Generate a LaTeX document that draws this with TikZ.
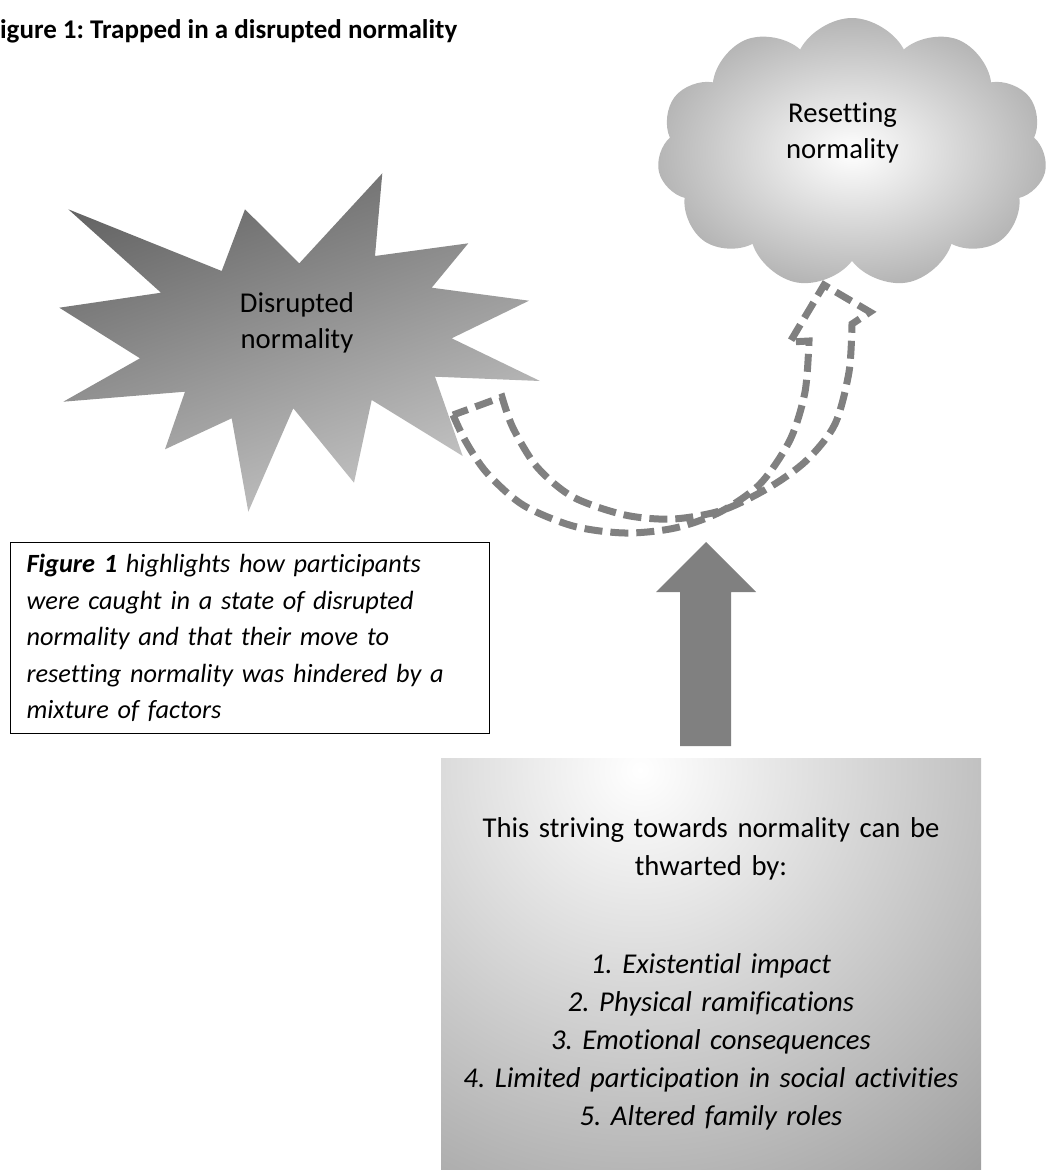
\documentclass[tikz,border=0pt]{standalone}
\usepackage{fontspec}
\setmainfont{Carlito}[Ligatures=NoCommon]
\usetikzlibrary{shapes.symbols}
\frenchspacing

\begin{document}
\begin{tikzpicture}[x=1pt, y=-1pt,
  big/.style={font=\fontsize{28.7}{36}\selectfont, inner sep=0pt, align=center, text width=300pt},
  dashline/.style={draw=gray, line width=7pt, dash pattern=on 18pt off 8pt},
  note/.style={draw=black, line width=1.3pt, font=\fontsize{26.3}{36.5}\selectfont\itshape,
    text width=447pt, inner xsep=16pt, inner ysep=0pt, minimum height=191pt, align=left}]
  \useasboundingbox (0,0) rectangle (1048,1170);

  \node[anchor=base west, inner sep=0pt, font=\fontsize{27}{32}\selectfont\bfseries] (title)
    at (-12.5,38) {Figure 1: Trapped in a disrupted normality};

  % disrupted normality
  \shade[top color=black!60, bottom color=black!22, shading angle=20]
    (68.3,209.3) -- (221.7,271) -- (245,209.3) -- (299.3,263.3) -- (382.3,173.3)
    -- (375,256) -- (468.3,243.3) -- (431.7,287.7) -- (529,300.7) -- (451.7,338.3)
    -- (540,381) -- (435,376.7) -- (462.7,456) -- (371.7,400) -- (354,482.7)
    -- (293.3,408.3) -- (248.3,511.7) -- (231.7,418.3) -- (165,449.3) -- (185,391.7)
    -- (63.3,401.7) -- (140,358.3) -- (59.3,307.7) -- (161,292.7) -- cycle;
  \node[big, anchor=base] (disrupted) at (297,312) {Disrupted\\normality};

  % resetting normality
  \node[cloud, cloud puffs=11, cloud puff arc=125, cloud ignores aspect, shape border rotate=8,
    minimum width=390pt, minimum height=270pt, inner color=white, outer color=black!29]
    (reset) at (852,153) {};
  \node[big, anchor=base] (resettext) at (842.5,122) {Resetting\\normality};

  % curved arrow
  \draw[dashline] plot[smooth] coordinates {(453,415) (466,442) (487,473) (523,505)
      (573,526) (625,533) (675,528) (720,512) (760,484) (790,440) (805,392) (809,341)}
    -- (790,342) -- (824,285) -- (870,312) -- (852,324)
    -- plot[smooth] coordinates {(852,324) (849,372) (835,424) (807,460) (770,487)
      (723,510) (673,519) (625,515) (573,497) (537,467) (513,428) (502,397)}
    -- cycle;

  \node[note, anchor=north west] (note) at (10,542)
    {\textbf{Figure 1} highlights how participants\\
     were caught in a state of disrupted\\
     normality and that their move to\\
     resetting normality was hindered by a\\
     mixture of factors};

  % up arrow
  \fill[gray] (706,542) -- (756,592) -- (731,592) -- (731,746) -- (680,746)
    -- (680,592) -- (656,592) -- cycle;

  % factors box
  \begin{scope}
    \clip (441,758) rectangle (981,1170);
    \shade[inner color=white, outer color=black!40] (640,770) circle (560pt);
  \end{scope}
  \node[big, anchor=base, text width=520pt, font=\fontsize{28.7}{38}\selectfont] (factors) at (711,837)
    {This striving towards normality can be\\
     thwarted by:\\[60pt]
     \itshape 1. Existential impact\\
     \itshape 2. Physical ramifications\\
     \itshape 3. Emotional consequences\\
     \itshape 4. Limited participation in social activities\\
     \itshape 5. Altered family roles};
\end{tikzpicture}
\end{document}
